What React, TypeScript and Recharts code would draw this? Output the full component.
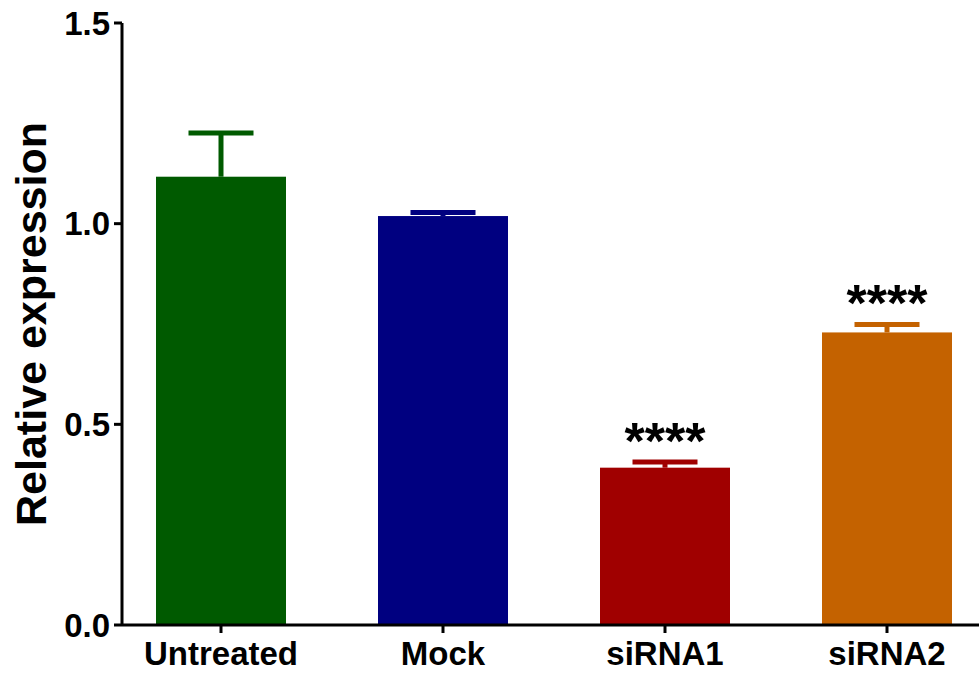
import React from 'react';
import { BarChart, Bar, Cell, XAxis, YAxis } from 'recharts';

const categories = ['Untreated', 'Mock', 'siRNA1', 'siRNA2'];
const means = [1.117, 1.019, 0.392, 0.729];
const sems = [0.109, 0.009, 0.014, 0.020];
const significance = ['', '', '****', '****'];
const yTicks = [0, 0.5, 1.0, 1.5];

const COLORS = ['#005a00', '#000080', '#a00000', '#c46200'];
const FONT = '"Liberation Sans", Arial, Helvetica, sans-serif';

const data = categories.map((name, i) => ({
  name,
  value: means[i],
  sem: sems[i],
  sig: significance[i],
}));

// bar + upward-only SEM whisker + significance stars, sized off the bar's own scale
const BarWithError = (props: any) => {
  const { x, y, width, height, payload, index } = props;
  const fill = props.fill || COLORS[index];
  const k = payload.value ? height / payload.value : 0;
  const top = y - payload.sem * k;
  const cx = x + width / 2;
  const cap = width / 4;
  return (
    <g>
      <rect x={x} y={y} width={width} height={height} fill={fill} />
      <line x1={cx} x2={cx} y1={y} y2={top} stroke={fill} strokeWidth={5} />
      <line x1={cx - cap} x2={cx + cap} y1={top} y2={top} stroke={fill} strokeWidth={5} />
      {payload.sig ? (
        <text
          x={cx}
          y={top - 3}
          textAnchor="middle"
          fontFamily={FONT}
          fontWeight="bold"
          fontSize={52}
          fill="#000"
        >
          {payload.sig}
        </text>
      ) : null}
    </g>
  );
};

const tickStyle = { fontSize: 33, fontWeight: 'bold', fill: '#000', fontFamily: FONT };

export default function App() {
  return (
    <div style={{ position: 'absolute', left: 0, top: 0, width: 979, height: 675, overflow: 'hidden', background: '#fff' }}>
      <BarChart
        width={979}
        height={675}
        data={data}
        margin={{ top: 23, right: 0, bottom: 0, left: 0 }}
      >
        <XAxis
          dataKey="name"
          height={50}
          padding={{ left: -12, right: -19 }}
          axisLine={{ stroke: '#000', strokeWidth: 3 }}
          tickLine={{ stroke: '#000', strokeWidth: 3 }}
          tickSize={8}
          tickMargin={9}
          tick={tickStyle}
          interval={0}
        />
        <YAxis
          width={122}
          domain={[0, 1.5]}
          ticks={yTicks}
          tickFormatter={(v: number) => v.toFixed(1)}
          axisLine={{ stroke: '#000', strokeWidth: 3 }}
          tickLine={{ stroke: '#000', strokeWidth: 3 }}
          tickSize={8}
          tickMargin={4}
          tick={tickStyle}
          label={{
            value: 'Relative expression',
            angle: -90,
            position: 'insideLeft',
            offset: 31,
            style: { textAnchor: 'middle', fontSize: 43, fontWeight: 'bold', fill: '#000', fontFamily: FONT },
          }}
        />
        <Bar dataKey="value" barSize={130} isAnimationActive={false} shape={BarWithError}>
          {data.map((_, i) => (
            <Cell key={`cell-${i}`} fill={COLORS[i]} />
          ))}
        </Bar>
      </BarChart>
    </div>
  );
}
